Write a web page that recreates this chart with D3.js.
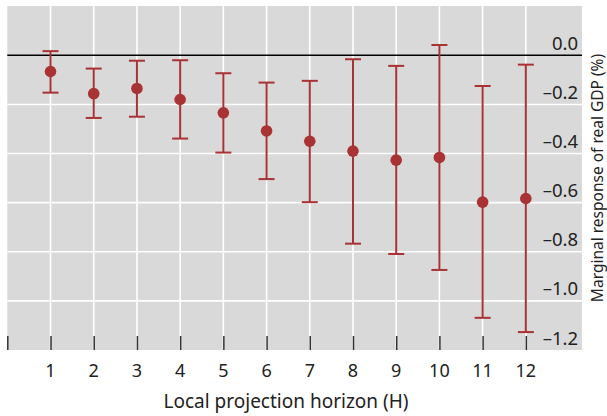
<!DOCTYPE html>
<html>
<head>
<meta charset="utf-8">
<script src="https://cdn.jsdelivr.net/npm/d3@7"></script>
<style>
  body { margin: 0; background: #fff; }
  svg { display: block; font-family: "Noto Sans", "Open Sans", sans-serif; }
</style>
</head>
<body>
<svg id="chart"></svg>
<script>
var horizon = [1, 2, 3, 4, 5, 6, 7, 8, 9, 10, 11, 12];
var estimate = [-0.066, -0.156, -0.135, -0.18, -0.234, -0.308, -0.35, -0.39, -0.427, -0.416, -0.598, -0.583];
var upper = [0.017, -0.054, -0.022, -0.02, -0.073, -0.111, -0.104, -0.016, -0.043, 0.042, -0.125, -0.038];
var lower = [-0.152, -0.255, -0.25, -0.339, -0.396, -0.504, -0.598, -0.767, -0.809, -0.874, -1.069, -1.127];
var xTicks = [0, 1, 2, 3, 4, 5, 6, 7, 8, 9, 10, 11, 12];
var yTicks = [0, -0.2, -0.4, -0.6, -0.8, -1.0, -1.2];

var red = "#a83234";

var width = 607, height = 416;
var plot = { left: 7.3, right: 582, top: 6, bottom: 350 };

var svg = d3.select("#chart")
  .attr("width", width)
  .attr("height", height);

// scales
var x = d3.scaleLinear().domain([0, 13.3]).range([plot.left, plot.right]);
var y = d3.scaleLinear().domain([-1.2, 0.2]).range([plot.bottom, plot.top + 0.2]);

// grey panel
svg.append("rect")
  .attr("x", plot.left)
  .attr("y", plot.top)
  .attr("width", plot.right - plot.left)
  .attr("height", plot.bottom - plot.top)
  .attr("fill", "#d9d9d9");

// white grid lines
svg.append("g")
  .selectAll("line")
  .data(horizon)
  .enter()
  .append("line")
  .attr("x1", function (d) { return x(d); })
  .attr("x2", function (d) { return x(d); })
  .attr("y1", plot.top)
  .attr("y2", plot.bottom)
  .attr("stroke", "#fff")
  .attr("stroke-width", 1.6);

svg.append("g")
  .selectAll("line")
  .data(yTicks.filter(function (d) { return d !== 0 && d > -1.2; }))
  .enter()
  .append("line")
  .attr("x1", plot.left)
  .attr("x2", plot.right)
  .attr("y1", function (d) { return y(d); })
  .attr("y2", function (d) { return y(d); })
  .attr("stroke", "#fff")
  .attr("stroke-width", 1.6);

// zero line
svg.append("line")
  .attr("x1", plot.left)
  .attr("x2", plot.right)
  .attr("y1", y(0))
  .attr("y2", y(0))
  .attr("stroke", "#000")
  .attr("stroke-width", 1.5);

// x ticks sit inside the panel, pointing up from the bottom
var xAxis = svg.append("g")
  .attr("transform", "translate(0," + plot.bottom + ")")
  .call(d3.axisTop(x).tickValues(xTicks).tickSize(14).tickFormat(""));
xAxis.select(".domain").remove();
xAxis.selectAll(".tick line").attr("stroke", "#333").attr("stroke-width", 1.5);

// x tick labels
svg.append("g")
  .selectAll("text")
  .data(horizon)
  .enter()
  .append("text")
  .attr("x", function (d) { return x(d); })
  .attr("y", 377)
  .attr("text-anchor", "middle")
  .attr("font-size", 18)
  .attr("fill", "#222")
  .text(function (d) { return d; });

// y labels, right aligned inside the panel, sitting above their grid line
svg.append("g")
  .selectAll("text")
  .data(yTicks)
  .enter()
  .append("text")
  .attr("x", 578)
  .attr("y", function (d) { return y(d) - 5.5; })
  .attr("text-anchor", "end")
  .attr("font-size", 18.5)
  .attr("fill", "#222")
  .text(function (d) { return d === 0 ? "0.0" : "\u2013" + Math.abs(d).toFixed(1); });

// error bars
var bars = svg.append("g")
  .selectAll("g")
  .data(horizon)
  .enter()
  .append("g")
  .attr("stroke", red)
  .attr("stroke-width", 2);

bars.append("line")
  .attr("x1", function (d) { return x(d); })
  .attr("x2", function (d) { return x(d); })
  .attr("y1", function (d, i) { return y(upper[i]); })
  .attr("y2", function (d, i) { return y(lower[i]); });

bars.append("line")
  .attr("x1", function (d) { return x(d) - 8; })
  .attr("x2", function (d) { return x(d) + 8; })
  .attr("y1", function (d, i) { return y(upper[i]); })
  .attr("y2", function (d, i) { return y(upper[i]); });

bars.append("line")
  .attr("x1", function (d) { return x(d) - 8; })
  .attr("x2", function (d) { return x(d) + 8; })
  .attr("y1", function (d, i) { return y(lower[i]); })
  .attr("y2", function (d, i) { return y(lower[i]); });

// point estimates
svg.append("g")
  .selectAll("circle")
  .data(horizon)
  .enter()
  .append("circle")
  .attr("cx", function (d) { return x(d); })
  .attr("cy", function (d, i) { return y(estimate[i]); })
  .attr("r", 5.8)
  .attr("fill", red);

// axis titles
svg.append("text")
  .attr("x", 286)
  .attr("y", 408)
  .attr("text-anchor", "middle")
  .attr("font-size", 19)
  .attr("fill", "#222")
  .text("Local projection horizon (H)");

svg.append("text")
  .attr("transform", "translate(603," + ((plot.top + plot.bottom) / 2) + ") rotate(-90)")
  .attr("text-anchor", "middle")
  .attr("font-size", 15.5)
  .attr("fill", "#222")
  .text("Marginal response of real GDP (%)");
</script>
</body>
</html>
